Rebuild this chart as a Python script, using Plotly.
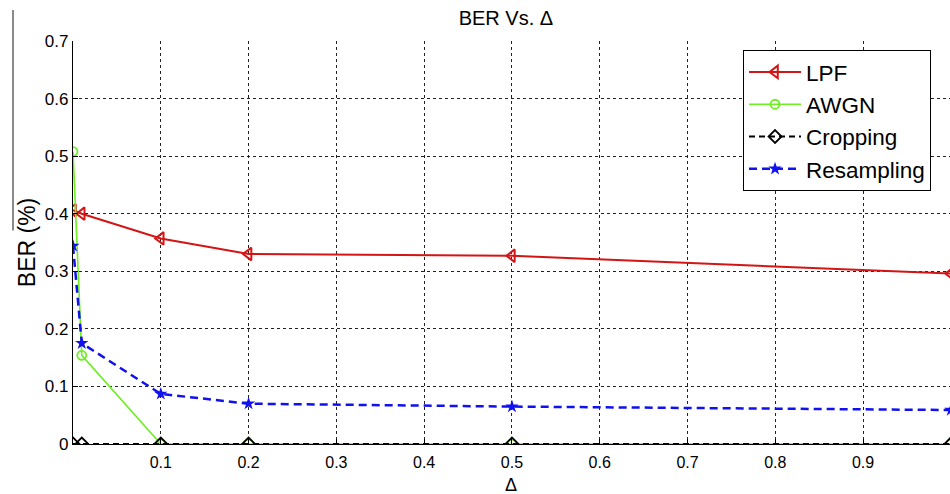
import plotly.graph_objects as go

# Distortion strength (Delta) values tested
delta = [0, 0.01, 0.1, 0.2, 0.5, 1.0]

# Bit error rate per attack
ber_lpf = [0.406, 0.400, 0.357, 0.330, 0.327, 0.296]
ber_awgn = [0.508, 0.154, 0.0, 0.0, 0.0, 0.0]
ber_cropping = [0.0, 0.0, 0.0, 0.0, 0.0, 0.0]
ber_resampling = [0.344, 0.175, 0.087, 0.070, 0.065, 0.059]

x_ticks = [0.1, 0.2, 0.3, 0.4, 0.5, 0.6, 0.7, 0.8, 0.9]
y_ticks = [0, 0.1, 0.2, 0.3, 0.4, 0.5, 0.6, 0.7]
y_tick_text = ["0", "0.1", "0.2", "0.3", "0.4", "0.5", "0.6", "0.7"]

FONT = "Liberation Sans, Arial, sans-serif"

fig = go.Figure()
fig.add_trace(go.Scatter(
    x=delta, y=ber_lpf, name="LPF", mode="lines+markers",
    line=dict(color="#d41515", width=2),
    marker=dict(symbol="triangle-left-open", size=11, color="#d41515",
                line=dict(width=2)),
))
fig.add_trace(go.Scatter(
    x=delta, y=ber_awgn, name="AWGN", mode="lines+markers",
    line=dict(color="#6cf020", width=1.6),
    marker=dict(symbol="circle-open", size=9, color="#6cf020",
                line=dict(width=1.8)),
))
fig.add_trace(go.Scatter(
    x=delta, y=ber_cropping, name="Cropping", mode="lines+markers",
    line=dict(color="#000000", width=2, dash="6px,4px"),
    marker=dict(symbol="diamond-open", size=10, color="#000000",
                line=dict(width=1.8)),
))
fig.add_trace(go.Scatter(
    x=delta, y=ber_resampling, name="Resampling", mode="lines+markers",
    line=dict(color="#1010f0", width=2.5, dash="8px,5px"),
    marker=dict(symbol="star", size=10, color="#1010f0",
                line=dict(width=0)),
))

fig.update_layout(
    width=950, height=494,
    margin=dict(l=73, r=0, t=41, b=50),
    paper_bgcolor="white", plot_bgcolor="white",
    font=dict(family=FONT, color="black"),
    title=dict(text="BER Vs. Δ", x=0.5325, xanchor="center", y=0.963,
               yanchor="middle", font=dict(size=20, color="black")),
    showlegend=True,
    legend=dict(
        x=0.764, y=0.978, xanchor="left", yanchor="top",
        bgcolor="white", bordercolor="black", borderwidth=1,
        font=dict(size=22.5, family=FONT, color="black"),
        tracegroupgap=0, itemwidth=52,
    ),
    shapes=[
        dict(type="line", xref="paper", yref="paper",
             x0=-0.0684, x1=-0.0684, y0=1.077, y1=0.53,
             line=dict(color="#8a8a8a", width=2)),
    ],
    annotations=[
        # x-axis title, resting on the bottom edge
        dict(text="Δ", xref="paper", yref="paper", x=0.4994, y=-0.126,
             xanchor="center", yanchor="bottom", showarrow=False,
             borderpad=0, yshift=-1,
             font=dict(size=18, color="black", family=FONT)),
    ],
)

fig.update_xaxes(
    range=[0, 0.999],
    tickvals=x_ticks,
    ticks="inside", ticklen=5, tickcolor="black",
    showline=True, linecolor="black", linewidth=1.2,
    showgrid=True, gridcolor="#222222", gridwidth=1, griddash="3px,3px",
    zeroline=False, ticklabelstandoff=4,
    tickfont=dict(size=16, family=FONT, color="black"),
)
fig.update_yaxes(
    range=[0, 0.7],
    tickvals=y_ticks, ticktext=y_tick_text,
    ticks="inside", ticklen=5, tickcolor="black",
    showline=True, linecolor="black", linewidth=1.2,
    showgrid=True, gridcolor="#222222", gridwidth=1, griddash="3px,3px",
    zeroline=False,
    tickfont=dict(size=17, family=FONT, color="black"),
    title=dict(text="BER (%)", font=dict(size=23, color="black"), standoff=2),
)

fig.write_html("out.html")
